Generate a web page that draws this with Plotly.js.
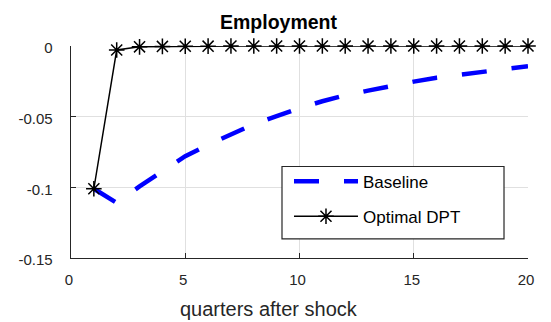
<!DOCTYPE html>
<html>
<head>
<meta charset="utf-8">
<script src="https://cdn.plot.ly/plotly-3.0.1.min.js"></script>
<style>html,body{margin:0;padding:0;background:#fff;}#chart{width:551px;height:322px;}</style>
</head>
<body>
<div id="chart"></div>
<script>
const quarters = [1,2,3,4,5,6,7,8,9,10,11,12,13,14,15,16,17,18,19,20];
const baseline = [-0.101,-0.111,-0.0993,-0.0886,-0.078,-0.0699,-0.0622,-0.0553,-0.0497,-0.0439,-0.0391,-0.0349,-0.0316,-0.028,-0.0252,-0.0224,-0.0203,-0.0181,-0.0165,-0.0143];
const optimalDPT = [-0.101,-0.0028,-0.0006,-0.0003,-0.0002,-0.0001,0,0,0,0,0,0,0,0,0,0,0,0,0,0];
const seriesNames = ["Baseline","Optimal DPT"];
const xTicks = [0,5,10,15,20];
const yTicks = [0,-0.05,-0.1,-0.15];
const yTickText = ["0","-0.05","-0.1","-0.15"];
const chartTitle = "Employment";
const xTitle = "quarters after shock";

const FONT = "Liberation Sans, Arial, Helvetica, sans-serif";
const traces = [
  {x: quarters, y: baseline, name: seriesNames[0], type: "scatter", mode: "lines",
   line: {color: "#0000ff", width: 4.5, dash: "25px,25px"}, legendgroup: "a", cliponaxis: false},
  {x: quarters, y: optimalDPT, name: seriesNames[1], type: "scatter", mode: "lines+markers",
   line: {color: "#000000", width: 1.5},
   marker: {symbol: "asterisk-open", size: 13, color: "#000", line: {color: "#000", width: 1.5}},
   legendgroup: "b", cliponaxis: false}
];
const layout = {
  width: 551, height: 322,
  margin: {l: 71, r: 23, t: 46, b: 64},
  paper_bgcolor: "#fff", plot_bgcolor: "#fff",
  font: {family: FONT, color: "#262626", size: 15},
  title: {text: "<b>" + chartTitle + "</b>", x: 0.5054, xanchor: "center", y: 0.9317, yanchor: "middle",
          font: {family: FONT, size: 19.5, color: "#000"}},
  xaxis: {range: [0, 20], tickvals: xTicks, ticktext: xTicks.map(String),
          showgrid: true, gridcolor: "#e0e0e0", gridwidth: 1,
          zeroline: false, showline: true, linecolor: "#262626", linewidth: 1.3,
          ticks: "inside", ticklen: 5, tickcolor: "#262626",
          ticklabelstandoff: 8, ticklabelshift: -2,
          tickfont: {size: 15, color: "#262626"}},
  yaxis: {range: [-0.15, 0], tickvals: yTicks, ticktext: yTickText,
          showgrid: true, gridcolor: "#e0e0e0", gridwidth: 1,
          zeroline: false, showline: true, linecolor: "#262626", linewidth: 1.3,
          ticks: "inside", ticklen: 5, tickcolor: "#262626",
          ticklabelstandoff: 14, ticklabelshift: 2,
          tickfont: {size: 15, color: "#262626"}},
  annotations: [
    {text: xTitle, xref: "paper", yref: "paper", x: 0.434, y: -0.2396,
     xanchor: "center", yanchor: "middle", showarrow: false,
     font: {family: FONT, size: 20, color: "#262626"}}
  ],
  shapes: [
    {type: "rect", xref: "paper", yref: "paper", x0: 0.4617, x1: 0.9475, y0: 0.0898, y1: 0.4315,
     line: {color: "#262626", width: 1.2}, fillcolor: "#ffffff", layer: "above"}
  ],
  showlegend: true,
  legend: {x: 0.477, xanchor: "left", y: 0.445, yanchor: "top",
           bgcolor: "rgba(0,0,0,0)", borderwidth: 0,
           font: {family: FONT, size: 17, color: "#000"},
           itemwidth: 64, tracegroupgap: 10, traceorder: "grouped"}
};
Plotly.newPlot("chart", traces, layout, {displayModeBar: false, staticPlot: true});
</script>
</body>
</html>
